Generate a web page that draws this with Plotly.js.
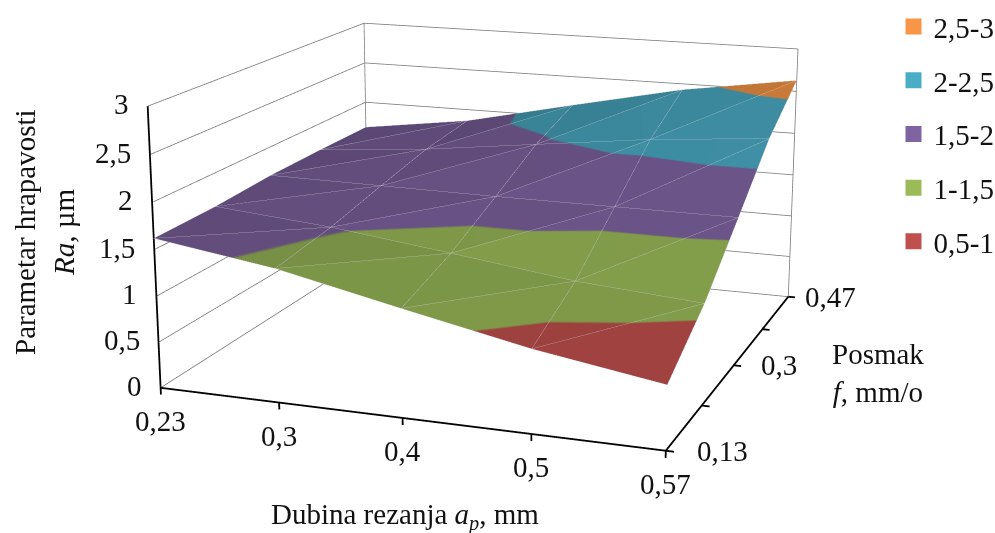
<!DOCTYPE html>
<html><head><meta charset="utf-8"><script src="https://cdn.plot.ly/plotly-3.0.1.min.js"></script>
<style>html,body{margin:0;padding:0;width:995px;height:533px;overflow:hidden;background:#fff}#c{position:absolute}</style></head>
<body><div id="c"></div><script>
// ---- data ----
const depthLabels=['0,23','0,3','0,4','0,5','0,57'];
const feedLabels=['0,13','','0,3','','0,47'];
const raTicks=[0,0.5,1,1.5,2,2.5,3];
const raLabels=['0','0,5','1','1,5','2','2,5','3'];
const ra023=[1.62,1.63,1.67,1.68,1.68];
const ra03 =[1.43,1.52,1.66,1.79,1.86];
const ra04 =[1.15,1.36,1.65,1.95,2.15];
const ra05 =[0.88,1.19,1.65,2.11,2.43];
const ra057=[0.67,1.09,1.65,2.22,2.63];
const bandNames=['2,5-3','2-2,5','1,5-2','1-1,5','0,5-1'];
const bandColors=['#F79646','#4BACC6','#8064A2','#9BBB59','#C0504D'];
// ---- layout of the page ----
const FONT='"Liberation Serif"',FS=29;
const W=1750,H=1750,L=497.5-W/2,T=266.5-H/2;
const fx=x=>(x-L)/W, fy=y=>1-(y-T)/H;
const box=document.getElementById('c');box.style.left=L+'px';box.style.top=T+'px';
const rows=[ra023,ra03,ra04,ra05,ra057];
const nA=rows.length,nF=rows[0].length;
const vid=(i,j)=>i*nF+j;
const mx=[],my=[],mz=[],ti=[],tj=[],tk=[];
for(let i=0;i<nA;i++)for(let j=0;j<nF;j++){mx.push(i);my.push(j);mz.push(rows[i][j]);}
for(let i=0;i<nA-1;i++)for(let j=0;j<nF-1;j++){
 ti.push(vid(i,j),vid(i,j));tj.push(vid(i+1,j),vid(i+1,j+1));tk.push(vid(i+1,j+1),vid(i,j+1));}
const stops=[...bandColors].reverse(),cs=[];
stops.forEach((c,n)=>{cs.push([n/stops.length,c],[(n+1)/stops.length,c]);});
function seg(list){const X=[],Y=[],Z=[];list.forEach(s=>{s.forEach(p=>{X.push(p[0]);Y.push(p[1]);Z.push(p[2]);});X.push(null);Y.push(null);Z.push(null);});return {x:X,y:Y,z:Z};}
// camera fitted to the reference's axis corners
const rx=[-0.1,4.5],ry=[-1,4.1],rz=[-0.2,3.5];
const ax0=1,ay0=1.0077,az0=0.5483;
const sx=ax0/4,sy=ay0/4,sz=az0/3;
const shift=[(2-(rx[0]+rx[1])/2)*sx,(2-(ry[0]+ry[1])/2)*sy,(1.5-(rz[0]+rz[1])/2)*sz];
const eye0=[1.4027,-3.8869,1.0493],cen0=[0.4637,-1.2755,0.2639];
const eye=eye0.map((v,n)=>v+shift[n]),cen=cen0.map((v,n)=>v+shift[n]);
// mesh wires are pulled toward the eye along the view ray: same picture position, clear of the surface's depth
const eyeData=[eye0[0]/sx+2,eye0[1]/sy+2,eye0[2]/sz+1.5],pull=0.035;
const wire=(i,j)=>{const p=[i,j,rows[i][j]];return p.map((v,n)=>v+pull*(eyeData[n]-v));};
const solid=[],dashed=[];
for(let i=0;i<nA;i++)for(let j=0;j<nF-1;j++)solid.push([wire(i,j),wire(i,j+1)]);
for(let j=0;j<nF;j++)for(let i=0;i<nA-1;i++)dashed.push([wire(i,j),wire(i+1,j)]);
for(let i=0;i<nA-1;i++)for(let j=0;j<nF-1;j++)dashed.push([wire(i,j),wire(i+1,j+1)]);
const iMax=nA-1,jMax=nF-1,zMax=raTicks[raTicks.length-1];
const gray=[[[0,jMax,0],[0,jMax,zMax]],[[iMax,jMax,0],[iMax,jMax,zMax]]];
raTicks.forEach(z=>{gray.push([[0,0,z],[0,jMax,z]]);gray.push([[0,jMax,z],[iMax,jMax,z]]);});
const black=[[[0,0,0],[0,0,zMax]],[[0,0,0],[iMax,0,0]],[[iMax,0,0],[iMax,jMax,0]]];
for(let i=0;i<nA;i++)black.push([[i,0,0],[i,0,-0.075]]);
for(let j=0;j<nF;j++)black.push([[iMax,j,0],[iMax+0.06,j,0]]);
const traces=[
 {type:'mesh3d',x:mx,y:my,z:mz,i:ti,j:tj,k:tk,intensity:mz,intensitymode:'vertex',cmin:0.5,cmax:3,colorscale:cs,showscale:false,flatshading:true,
  lighting:{ambient:0.05,diffuse:0.8,specular:0,roughness:1,fresnel:0,facenormalsepsilon:0},lightposition:{x:25000,y:0,z:100000},hoverinfo:'skip',showlegend:false},
 Object.assign({type:'scatter3d',mode:'lines',line:{color:'#7c7c7c',width:1.6},hoverinfo:'skip',showlegend:false},seg(gray)),
 Object.assign({type:'scatter3d',mode:'lines',line:{color:'#000',width:3.6},hoverinfo:'skip',showlegend:false},seg(black)),
 Object.assign({type:'scatter3d',mode:'lines',line:{color:'#c9c4d4',width:1},opacity:0.65,hoverinfo:'skip',showlegend:false},seg(solid)),
 Object.assign({type:'scatter3d',mode:'lines',line:{color:'#d8d4de',width:1},opacity:0.5,hoverinfo:'skip',showlegend:false},seg(dashed)),
];
bandNames.forEach((n,q)=>traces.push({type:'scatter',mode:'markers',x:[null],y:[null],name:n,legendgroup:n,marker:{symbol:'square',size:17,color:bandColors[q]},hoverinfo:'skip'}));
const tf={family:FONT,size:FS,color:'#111'};
const sa=[];
raTicks.forEach((z,n)=>sa.push({x:0,y:0,z:z,text:raLabels[n],showarrow:false,xanchor:'right',yanchor:'middle',xshift:-17,yshift:2,font:tf}));
depthLabels.forEach((t,i)=>sa.push({x:i,y:0,z:0,text:t,showarrow:false,xanchor:'center',yanchor:'middle',yshift:-33,font:tf}));
const feedShift=[29,0,25,0,15];
feedLabels.forEach((t,j)=>{if(t)sa.push({x:iMax,y:j,z:0,text:t,showarrow:false,xanchor:'left',yanchor:'middle',xshift:feedShift[j],font:tf});});
const pa=(x,y,text,extra)=>Object.assign({xref:'paper',yref:'paper',x:fx(x),y:fy(y),text:text,showarrow:false,font:tf,xanchor:'center',yanchor:'middle'},extra||{});
const layout={width:W,height:H,margin:{l:0,r:0,t:0,b:0},paper_bgcolor:'#fff',plot_bgcolor:'#fff',
 xaxis:{visible:false},yaxis:{visible:false},
 legend:{x:fx(893),y:fy(0.7),xanchor:'left',yanchor:'top',font:{family:FONT,size:FS,color:'#111'},tracegroupgap:13,bgcolor:'rgba(0,0,0,0)',itemclick:false,itemdoubleclick:false},
 scene:{domain:{x:[0,1],y:[0,1]},aspectmode:'manual',
  aspectratio:{x:(rx[1]-rx[0])*sx,y:(ry[1]-ry[0])*sy,z:(rz[1]-rz[0])*sz},
  camera:{eye:{x:eye[0],y:eye[1],z:eye[2]},center:{x:cen[0],y:cen[1],z:cen[2]},up:{x:0,y:0,z:1}},
  xaxis:{range:rx,autorange:false,visible:false,showspikes:false},
  yaxis:{range:ry,autorange:false,visible:false,showspikes:false},
  zaxis:{range:rz,autorange:false,visible:false,showspikes:false},
  annotations:sa,bgcolor:'#fff'},
 annotations:[
  pa(25,232,'Parametar hrapavosti',{textangle:-90}),
  pa(64,232,'<i>Ra</i>, µm',{textangle:-90}),
  pa(404,516,'Dubina rezanja <i>a<sub>p</sub></i>, mm'),
  pa(877,372,'Posmak<br><i>f</i>, mm/o')
 ]};
Plotly.newPlot(box,traces,layout,{displayModeBar:false});
</script></body></html>
